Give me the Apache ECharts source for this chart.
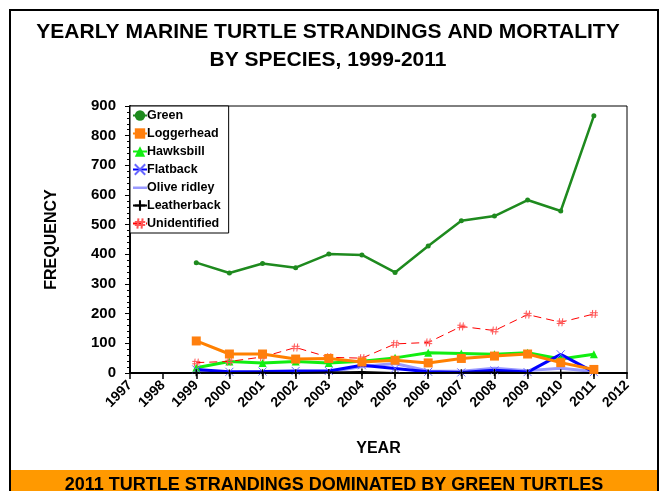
<!DOCTYPE html>
<html>
<head>
<meta charset="utf-8">
<script src="https://cdn.jsdelivr.net/npm/echarts@6/dist/echarts.min.js"></script>
<style>
html,body{margin:0;padding:0;background:#fff;}
#chart{width:666px;height:491px;}
</style>
</head>
<body>
<div id="chart"></div>
<script>
var titleLines = ['YEARLY MARINE TURTLE STRANDINGS AND MORTALITY', 'BY SPECIES, 1999-2011'];
var bannerText = '2011 TURTLE STRANDINGS DOMINATED BY GREEN TURTLES';
var yAxisName = 'FREQUENCY';
var xAxisName = 'YEAR';
var years = [1999, 2000, 2001, 2002, 2003, 2004, 2005, 2006, 2007, 2008, 2009, 2010, 2011];
var green = [372, 337, 369, 355, 401, 398, 339, 428, 513, 529, 583, 546, 867];
var loggerhead = [108, 64, 64, 47, 49, 37, 43, 34, 49, 57, 64, 35, 12];
var hawksbill = [18, 39, 34, 39, 34, 40, 51, 68, 66, 63, 68, 47, 63];
var flatback = [12, 4, 5, 7, 7, 26, 15, 4, 2, 9, 3, 63, 3];
var oliveRidley = [5, 2, 2, 3, 3, 22, 32, 7, 6, 16, 8, 16, 5];
var leatherback = [1, 0, 1, 0, 2, 3, 0, 0, 1, 2, 0, 1, 0];
var unidentified = [35, 39, 54, 86, 53, 50, 98, 103, 157, 143, 197, 171, 199];

function pairs(vals) { return years.map(function (y, i) { return [y, vals[i]]; }); }

var FONT = 'Liberation Sans, Arial, sans-serif';
var chart = echarts.init(document.getElementById('chart'));

var xSym = 'path://M0,0L10,10M10,0L0,10';
var hashSym = 'path://M3.5,0L2.5,10M7.5,0L6.5,10M0,3.5L10,3.5M0,6.5L10,6.5';
var plusSym = 'path://M4,0h2v4h4v2h-4v4h-2v-4h-4v-2h4z';
var lineOnlyIcon = 'path://M0,0h0.01v0.01h-0.01zM0,5.5h14v2.5h-14zM14,13h0.01v0.01h-0.01z';

chart.setOption({
  animation: false,
  backgroundColor: '#fff',
  graphic: [
    { type: 'rect', shape: { x: 10, y: 10, width: 648, height: 492 }, style: { fill: 'none', stroke: '#000', lineWidth: 2 }, z: 100 },
    { type: 'rect', shape: { x: 11, y: 470, width: 646, height: 25 }, style: { fill: '#FF9900' }, z: 99 },
    { type: 'text', x: 334, y: 485, style: { text: bannerText, font: 'bold 18px ' + FONT, fill: '#000', textAlign: 'center', textVerticalAlign: 'middle' }, z: 101 },
    { type: 'text', x: 328, y: 32, style: { text: titleLines[0], font: 'bold 21px ' + FONT, fill: '#000', textAlign: 'center', textVerticalAlign: 'middle' } },
    { type: 'text', x: 328, y: 60, style: { text: titleLines[1], font: 'bold 21px ' + FONT, fill: '#000', textAlign: 'center', textVerticalAlign: 'middle' } }
  ],
  grid: { left: 130, right: 39, top: 106, bottom: 118, show: true, borderColor: '#000', borderWidth: 1, backgroundColor: 'transparent' },
  legend: {
    orient: 'vertical', left: 130, top: 106, itemGap: 5, itemWidth: 14, itemHeight: 13,
    padding: [3, 8, 3, 2], borderColor: '#000', borderWidth: 1, backgroundColor: '#fff',
    textStyle: { fontFamily: FONT, fontWeight: 'bold', fontSize: 12.5, color: '#000', padding: [0, 0, 0, -5] },
    data: ['Green', 'Loggerhead', 'Hawksbill', 'Flatback', { name: 'Olive ridley', icon: lineOnlyIcon }, 'Leatherback', 'Unidentified']
  },
  xAxis: {
    type: 'value', min: 1997, max: 2012, interval: 1,
    name: xAxisName, nameLocation: 'middle', nameGap: 68,
    nameTextStyle: { fontFamily: FONT, fontWeight: 'bold', fontSize: 16, color: '#000' },
    axisLine: { onZero: false, lineStyle: { color: '#000', width: 2 } },
    axisTick: { length: 6, lineStyle: { color: '#000', width: 1.5 } },
    splitLine: { show: false },
    axisLabel: { rotate: 45, margin: 10, fontFamily: FONT, fontWeight: 'bold', fontSize: 14, color: '#000', formatter: function (v) { return String(v); } }
  },
  yAxis: {
    type: 'value', min: 0, max: 900, interval: 100,
    name: yAxisName, nameLocation: 'middle', nameGap: 70,
    nameTextStyle: { fontFamily: FONT, fontWeight: 'bold', fontSize: 16, color: '#000' },
    axisLine: { show: true, lineStyle: { color: '#000', width: 2 } },
    axisTick: { show: true, length: 5, lineStyle: { color: '#000', width: 1 } },
    minorTick: { show: true, splitNumber: 5, length: 3, lineStyle: { color: '#000', width: 1 } },
    splitLine: { show: false },
    axisLabel: { margin: 14, fontFamily: FONT, fontWeight: 'bold', fontSize: 15, color: '#000' }
  },
  series: [
    { name: 'Green', type: 'line', data: pairs(green), symbol: 'circle', symbolSize: 5,
      itemStyle: { color: '#1E8A1E' }, lineStyle: { color: '#1E8A1E', width: 2.5 }, z: 3 },
    { name: 'Loggerhead', type: 'line', data: pairs(loggerhead), symbol: 'rect', symbolSize: 9,
      itemStyle: { color: '#FF7F0E' }, lineStyle: { color: '#FF8000', width: 3 }, z: 4 },
    { name: 'Hawksbill', type: 'line', data: pairs(hawksbill), symbol: 'triangle', symbolSize: 8,
      itemStyle: { color: '#11EE11' }, lineStyle: { color: '#11EE11', width: 3 }, z: 3 },
    { name: 'Flatback', type: 'line', data: pairs(flatback), symbol: xSym, symbolSize: 8,
      itemStyle: { color: 'rgba(0,0,0,0)', borderColor: '#6666FF', borderWidth: 1 }, lineStyle: { color: '#0000FF', width: 3 }, z: 3 },
    { name: 'Olive ridley', type: 'line', data: pairs(oliveRidley), symbol: 'none',
      itemStyle: { color: '#9999FF' }, lineStyle: { color: '#9999FF', width: 3 }, z: 2 },
    { name: 'Leatherback', type: 'line', data: pairs(leatherback), symbol: plusSym, symbolSize: 7,
      itemStyle: { color: '#000' }, lineStyle: { color: '#000', width: 2 }, z: 3 },
    { name: 'Unidentified', type: 'line', data: pairs(unidentified), symbol: hashSym, symbolSize: 8,
      itemStyle: { color: 'rgba(0,0,0,0)', borderColor: '#FF5555', borderWidth: 1 }, lineStyle: { color: '#FF0000', width: 1, type: [8, 5] }, z: 3 }
  ]
});
</script>
</body>
</html>
